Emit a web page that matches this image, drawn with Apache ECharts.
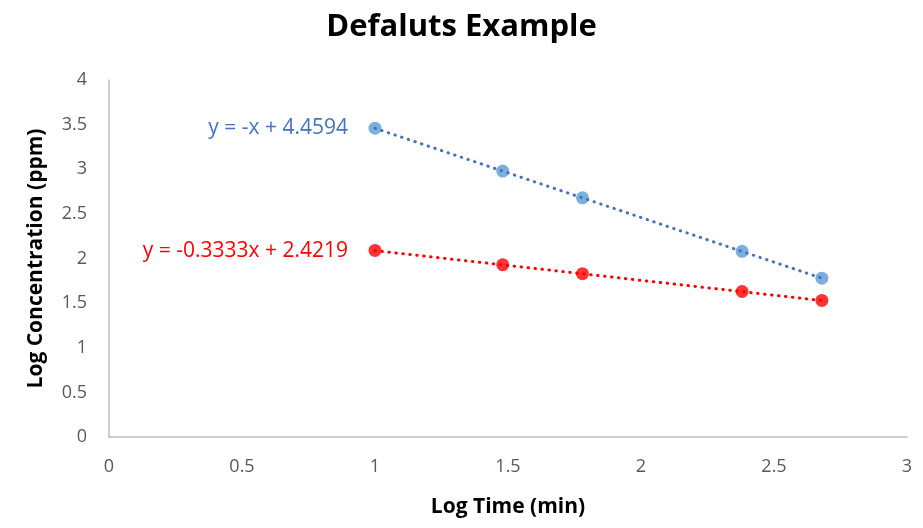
<!DOCTYPE html>
<html>
<head>
<meta charset="utf-8">
<script src="https://cdn.jsdelivr.net/npm/echarts@6/dist/echarts.min.js"></script>
<style>
  html, body { margin: 0; padding: 0; background: #fff; }
  #main { width: 923px; height: 528px; }
</style>
</head>
<body>
<div id="main"></div>
<script>
// log time (min) and log concentration (ppm)
var logTime = [1, 1.48, 1.78, 2.38, 2.68];
var seriesA = [3.46, 2.98, 2.68, 2.08, 1.78];
var seriesB = [2.09, 1.93, 1.83, 1.63, 1.53];

// trendline equations shown on the chart
var trendA = { slope: -1, intercept: 4.4594, text: 'y = -x + 4.4594' };
var trendB = { slope: -0.3333, intercept: 2.4219, text: 'y = -0.3333x + 2.4219' };

var xTicks = [0, 0.5, 1, 1.5, 2, 2.5, 3];
var yTicks = [0, 0.5, 1, 1.5, 2, 2.5, 3, 3.5, 4];

var FONT = '"Open Sans", "Noto Sans", sans-serif';

function pairs(xs, ys) {
  return xs.map(function (x, i) { return [x, ys[i]]; });
}

// trendline from first to last x, label on the first point
function trendLine(t, color) {
  var x0 = logTime[0], x1 = logTime[logTime.length - 1];
  return {
    type: 'line',
    silent: true,
    symbol: 'circle',
    symbolSize: 0,
    showSymbol: true,
    z: 3,
    lineStyle: { color: color, width: 3, type: [0.5, 6.5], cap: 'round' },
    data: [
      {
        value: [x0, t.slope * x0 + t.intercept],
        label: {
          show: true, position: 'left', distance: 27,
          formatter: t.text, color: color, fontSize: 21, fontFamily: FONT
        }
      },
      [x1, t.slope * x1 + t.intercept]
    ]
  };
}

var myChart = echarts.init(document.getElementById('main'));
var option = {
  animation: false,
  title: {
    text: 'Defaluts Example',
    left: 'center',
    top: 7,
    textStyle: { fontSize: 31, fontWeight: 'bold', color: '#000', fontFamily: FONT }
  },
  grid: { left: 109, right: 16, top: 80, bottom: 91 },
  xAxis: {
    type: 'value',
    min: xTicks[0], max: xTicks[xTicks.length - 1], interval: 0.5,
    name: 'Log Time (min)',
    nameLocation: 'middle',
    nameGap: 60,
    nameTextStyle: { fontSize: 21, fontWeight: 'bold', color: '#000', fontFamily: FONT },
    axisLine: { show: true, lineStyle: { color: '#bfbfbf', width: 1.5 } },
    axisTick: { show: false },
    splitLine: { show: false },
    axisLabel: { color: '#595959', fontSize: 18, margin: 21, fontFamily: FONT }
  },
  yAxis: {
    type: 'value',
    min: yTicks[0], max: yTicks[yTicks.length - 1], interval: 0.5,
    name: 'Log Concentration (ppm)',
    nameLocation: 'middle',
    nameGap: 62,
    nameTextStyle: { fontSize: 21, fontWeight: 'bold', color: '#000', fontFamily: FONT },
    axisLine: { show: true, lineStyle: { color: '#bfbfbf', width: 1.5 } },
    axisTick: { show: false },
    splitLine: { show: false },
    axisLabel: { color: '#595959', fontSize: 18, margin: 22, fontFamily: FONT }
  },
  series: [
    trendLine(trendA, '#4472C4'),
    trendLine(trendB, '#FF0000'),
    {
      type: 'scatter',
      symbolSize: 13,
      z: 2,
      itemStyle: { color: '#5B9BD5' },
      data: pairs(logTime, seriesA)
    },
    {
      type: 'scatter',
      symbolSize: 13,
      z: 2,
      itemStyle: { color: '#FF0000' },
      data: pairs(logTime, seriesB)
    }
  ]
};
myChart.setOption(option);
</script>
</body>
</html>
